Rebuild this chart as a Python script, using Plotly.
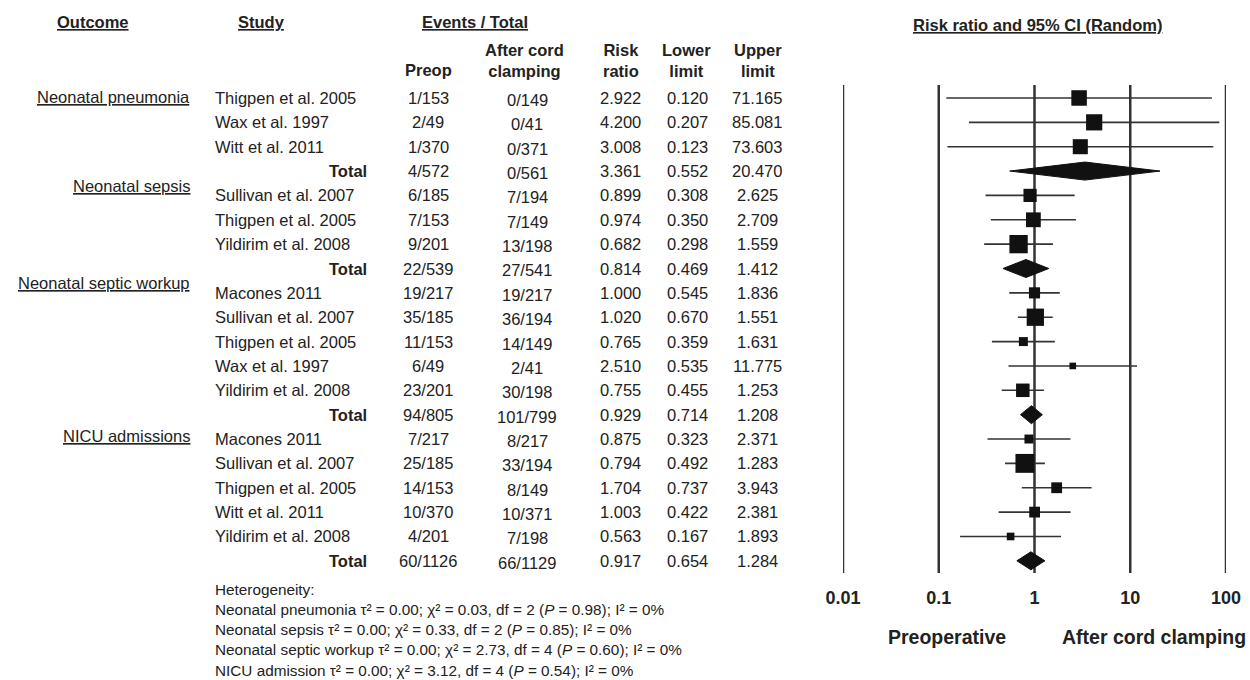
import plotly.graph_objects as go
import math

# ---------------- data ----------------
outcomes = ["Neonatal pneumonia", "Neonatal sepsis", "Neonatal septic workup", "NICU admissions"]
row_outcome = [0, 0, 0, 0, 1, 1, 1, 1, 2, 2, 2, 2, 2, 2, 3, 3, 3, 3, 3, 3]
studies = ["Thigpen et al. 2005", "Wax et al. 1997", "Witt et al. 2011", "Total",
           "Sullivan et al. 2007", "Thigpen et al. 2005", "Yildirim et al. 2008", "Total",
           "Macones 2011", "Sullivan et al. 2007", "Thigpen et al. 2005", "Wax et al. 1997",
           "Yildirim et al. 2008", "Total",
           "Macones 2011", "Sullivan et al. 2007", "Thigpen et al. 2005", "Witt et al. 2011",
           "Yildirim et al. 2008", "Total"]
preop = ["1/153", "2/49", "1/370", "4/572", "6/185", "7/153", "9/201", "22/539",
         "19/217", "35/185", "11/153", "6/49", "23/201", "94/805",
         "7/217", "25/185", "14/153", "10/370", "4/201", "60/1126"]
after_clamp = ["0/149", "0/41", "0/371", "0/561", "7/194", "7/149", "13/198", "27/541",
               "19/217", "36/194", "14/149", "2/41", "30/198", "101/799",
               "8/217", "33/194", "8/149", "10/371", "7/198", "66/1129"]
risk_ratio = [2.922, 4.200, 3.008, 3.361, 0.899, 0.974, 0.682, 0.814,
              1.000, 1.020, 0.765, 2.510, 0.755, 0.929,
              0.875, 0.794, 1.704, 1.003, 0.563, 0.917]
lower_limit = [0.120, 0.207, 0.123, 0.552, 0.308, 0.350, 0.298, 0.469,
               0.545, 0.670, 0.359, 0.535, 0.455, 0.714,
               0.323, 0.492, 0.737, 0.422, 0.167, 0.654]
upper_limit = [71.165, 85.081, 73.603, 20.470, 2.625, 2.709, 1.559, 1.412,
               1.836, 1.551, 1.631, 11.775, 1.253, 1.208,
               2.371, 1.283, 3.943, 2.381, 1.893, 1.284]
# relative study weight (%) within each outcome
study_weight = [33, 36, 31, None, 24, 30, 46, None,
                17, 41, 11, 6, 25, None,
                11, 49, 16, 16, 8, None]

het_outcomes = ["Neonatal pneumonia", "Neonatal sepsis", "Neonatal septic workup", "NICU admission"]
het_tau2 = ["0.00", "0.00", "0.00", "0.00"]
het_chi2 = ["0.03", "0.33", "2.73", "3.12"]
het_df = [2, 2, 4, 4]
het_p = ["0.98", "0.85", "0.60", "0.54"]
het_i2 = ["0%", "0%", "0%", "0%"]

tick_values = [0.01, 0.1, 1, 10, 100]
tick_labels = ["0.01", "0.1", "1", "10", "100"]

# ---------------- layout helpers ----------------
W, H = 1250, 680
FONT = "Liberation Sans, Arial, Helvetica, sans-serif"
TXT = "#222222"
FS = 16.5


def px(x):
    return x / W


def py(y):
    return 1 - y / H


rows = list(range(1, len(studies) + 1))
fig = go.Figure()

# reference lines at the ticks
for v in tick_values:
    fig.add_shape(type="line", xref="x", yref="y domain", x0=v, x1=v, y0=0, y1=1,
                  line=dict(color="#333333", width=2.5), layer="below")

# CI lines for individual studies
cx, cy = [], []
for r, s, lo, hi in zip(rows, studies, lower_limit, upper_limit):
    if s == "Total":
        continue
    cx += [lo, hi, None]
    cy += [r, r, None]
fig.add_trace(go.Scatter(x=cx, y=cy, mode="lines", line=dict(color="#333333", width=1.6),
                         hoverinfo="skip", showlegend=False))

# squares
sx, sy, ss = [], [], []
for r, s, v, w in zip(rows, studies, risk_ratio, study_weight):
    if s == "Total":
        continue
    sx.append(v)
    sy.append(r)
    ss.append(2.7 * math.sqrt(w))
fig.add_trace(go.Scatter(x=sx, y=sy, mode="markers",
                         marker=dict(symbol="square", size=ss, color="#111111", opacity=1,
                                     line=dict(width=0)),
                         showlegend=False))

# diamonds for totals
HALF = 0.37
for r, s, v, lo, hi in zip(rows, studies, risk_ratio, lower_limit, upper_limit):
    if s != "Total":
        continue
    fig.add_trace(go.Scatter(x=[lo, v, hi, v, lo], y=[r, r - HALF, r, r + HALF, r],
                             mode="lines", fill="toself", fillcolor="#111111",
                             line=dict(color="#111111", width=1), showlegend=False,
                             hoverinfo="skip"))

ann = []


def add_text(text, x, y, xanchor="center", yref="paper", size=FS, bold=False,
             yanchor="middle", underline=False):
    font = dict(family=FONT, size=size, color=TXT, weight="bold" if bold else "normal")
    if underline:
        font["lineposition"] = "under"
    ann.append(dict(text=text, x=x, y=y, xref="paper", yref=yref, xanchor=xanchor,
                    yanchor=yanchor, showarrow=False, font=font))


# headers
add_text("Outcome", px(93), py(22), bold=True, underline=True)
add_text("Study", px(261), py(22), bold=True, underline=True)
add_text("Events / Total", px(475), py(22), bold=True, underline=True)
add_text("Preop", px(428), py(70), bold=True)
add_text("After cord<br>clamping", px(524), py(60), bold=True)
add_text("Risk<br>ratio", px(621), py(60), bold=True)
add_text("Lower<br>limit", px(686), py(60), bold=True)
add_text("Upper<br>limit", px(758), py(60), bold=True)
add_text("Risk ratio and 95% CI (Random)", px(1037), py(25), bold=True, underline=True)

# outcome labels (slightly above first study row of each group)
outcome_label_shift = [0.05, 0.4, 0.4, 0.12]
for k, name in enumerate(outcomes):
    first = row_outcome.index(k) + 1
    add_text(name, px(192), first - outcome_label_shift[k],
             xanchor="right", yref="y", underline=True)

# table rows
for r, s, a, b, v, lo, hi in zip(rows, studies, preop, after_clamp, risk_ratio,
                                 lower_limit, upper_limit):
    if s == "Total":
        add_text("Total", px(369), r, xanchor="right", yref="y", bold=True)
    else:
        add_text(s, px(213), r, xanchor="left", yref="y")
    add_text(a, px(428), r, yref="y")
    add_text(b, px(527), r + 0.08, yref="y")
    add_text(f"{v:.3f}", px(620), r, yref="y")
    add_text(f"{lo:.3f}", px(687), r, yref="y")
    add_text(f"{hi:.3f}", px(757), r, yref="y")

# heterogeneity block
het_lines = ["Heterogeneity:"]
for o, t, c, d, p, i2 in zip(het_outcomes, het_tau2, het_chi2, het_df, het_p, het_i2):
    het_lines.append(f"{o} τ² = {t}; χ² = {c}, df = {d} "
                     f"(<i>P</i> = {p}); I² = {i2}")
for k, line in enumerate(het_lines):
    add_text(line, px(213), py(589 + 20.3 * k), xanchor="left", size=15.3)

# axis side labels
add_text("Preoperative", px(947), py(637), bold=True, size=19.5)
add_text("After cord clamping", px(1154), py(637), bold=True, size=19.5)

fig.update_layout(
    width=W, height=H,
    margin=dict(l=0, r=0, t=0, b=0, pad=0, autoexpand=False),
    paper_bgcolor="white", plot_bgcolor="white",
    showlegend=False,
    annotations=ann,
    xaxis=dict(type="log", range=[-2, 2], domain=[px(843), px(1226)],
               tickvals=tick_values, ticktext=tick_labels,
               tickfont=dict(family=FONT, size=18, color=TXT, weight="bold"),
               showgrid=False, zeroline=False, showline=False, ticks="",
               ticklabelstandoff=12, automargin=False, fixedrange=True),
    yaxis=dict(range=[20.5, 0.467], domain=[py(573), py(85)], visible=False,
               automargin=False, showgrid=False, zeroline=False, fixedrange=True),
)

fig.write_html("out.html", config={"displayModeBar": False},
               post_script="document.body.style.margin='0';")
